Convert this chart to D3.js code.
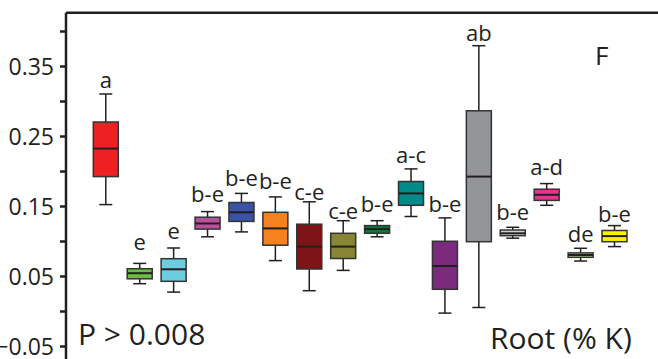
<!DOCTYPE html>
<html>
<head>
<meta charset="utf-8">
<script src="https://d3js.org/d3.v7.min.js"></script>
<style>
  html, body { margin: 0; padding: 0; background: #fff; }
  svg text { font-family: "Open Sans", sans-serif; fill: #231f20; }
  .box rect { stroke: #333; stroke-width: 1.5px; }
  .box line { stroke: #231f20; stroke-width: 1.5px; }
  .axis path, .axis line { stroke: #231f20; stroke-width: 2.5px; }
</style>
</head>
<body>
<script>
// one entry per treatment, left to right
var groups   = ["T1","T2","T3","T4","T5","T6","T7","T8","T9","T10","T11","T12","T13","T14","T15","T16"];
var whiskLo  = [0.152, 0.039, 0.027, 0.106, 0.113, 0.072, 0.029, 0.058, 0.106, 0.135, -0.003, 0.005, 0.104, 0.151, 0.0714, 0.092];
var q1       = [0.192, 0.046, 0.0424, 0.117, 0.128, 0.094, 0.060, 0.075, 0.111, 0.151, 0.031, 0.099, 0.1076, 0.158, 0.0767, 0.099];
var median   = [0.232, 0.054, 0.0596, 0.125, 0.141, 0.118, 0.092, 0.092, 0.117, 0.168, 0.0643, 0.192, 0.111, 0.166, 0.080, 0.107];
var q3       = [0.270, 0.0604, 0.0747, 0.134, 0.155, 0.141, 0.124, 0.111, 0.122, 0.185, 0.0996, 0.286, 0.1157, 0.174, 0.083, 0.115];
var whiskHi  = [0.310, 0.068, 0.090, 0.142, 0.168, 0.163, 0.156, 0.129, 0.129, 0.203, 0.133, 0.379, 0.1196, 0.182, 0.0896, 0.122];
var letters  = ["a","e","e","b-e","b-e","b-e","c-e","c-e","b-e","a-c","b-e","ab","b-e","a-d","de","b-e"];
// value at which each letter's baseline sits
var letterAt = [0.318, 0.087, 0.103, 0.156, 0.178, 0.174, 0.158, 0.131, 0.142, 0.212, 0.142, 0.386, 0.130, 0.194, 0.098, 0.127];
var colors   = ["#ed2024","#6bbd45","#6dcddf","#b94f9f","#3a53a4","#f6821f","#7f1416","#878634","#0b7c3b","#008a8a",
                "#7b2a7e","#939598","#cfd1d2","#e9338e","#b7d98f","#fef200"];
var majorTicks = [-0.05, 0.05, 0.15, 0.25, 0.35];
var allTicks   = [-0.05, 0, 0.05, 0.1, 0.15, 0.2, 0.25, 0.3, 0.35, 0.4];

var width = 658, height = 359;
var svg = d3.select("body").append("svg")
    .attr("width", width).attr("height", height);

var y = d3.scaleLinear().domain([-0.07, 0.426]).range([360, 12.8]);
var x = d3.scalePoint().domain(groups).range([105.8, 614.5]);
var axisX = 66, boxW = 25, capW = 13;

// frame: top edge
svg.append("line")
    .attr("x1", axisX).attr("x2", width)
    .attr("y1", y(0.426)).attr("y2", y(0.426))
    .attr("stroke", "#231f20").attr("stroke-width", 2.5);

// y axis
var axis = d3.axisLeft(y)
    .tickValues(allTicks)
    .tickSize(6)
    .tickSizeOuter(0)
    .tickPadding(6)
    .tickFormat(function(d) {
      var isMajor = majorTicks.some(function(m) { return Math.abs(m - d) < 1e-9; });
      return isMajor ? d3.format(".2f")(d) : "";
    });
var gAxis = svg.append("g")
    .attr("class", "axis")
    .attr("transform", "translate(" + axisX + ",0)")
    .call(axis);
gAxis.selectAll("text").style("font-size", "23px").attr("dy", "0.36em");
gAxis.select(".domain").attr("d", "M0," + y(-0.07) + "V" + y(0.426));

var data = groups.map(function(g, i) {
  return { g: g, lo: whiskLo[i], q1: q1[i], med: median[i], q3: q3[i], hi: whiskHi[i],
           letter: letters[i], at: letterAt[i], color: colors[i] };
});

var box = svg.selectAll("g.box").data(data).enter()
    .append("g").attr("class", "box")
    .attr("transform", function(d) { return "translate(" + x(d.g) + ",0)"; });

// whisker stems
box.append("line")
    .attr("x1", 0).attr("x2", 0)
    .attr("y1", function(d) { return y(d.hi); })
    .attr("y2", function(d) { return y(d.lo); });
// caps
box.append("line")
    .attr("x1", -capW / 2).attr("x2", capW / 2)
    .attr("y1", function(d) { return y(d.hi); })
    .attr("y2", function(d) { return y(d.hi); });
box.append("line")
    .attr("x1", -capW / 2).attr("x2", capW / 2)
    .attr("y1", function(d) { return y(d.lo); })
    .attr("y2", function(d) { return y(d.lo); });
// boxes
box.append("rect")
    .attr("x", -boxW / 2).attr("width", boxW)
    .attr("y", function(d) { return y(d.q3); })
    .attr("height", function(d) { return y(d.q1) - y(d.q3); })
    .attr("fill", function(d) { return d.color; });
// medians
box.append("line")
    .attr("x1", -boxW / 2).attr("x2", boxW / 2)
    .attr("y1", function(d) { return y(d.med); })
    .attr("y2", function(d) { return y(d.med); })
    .style("stroke-width", "2px");
// significance letters
box.append("text")
    .attr("text-anchor", "middle")
    .attr("y", function(d) { return y(d.at); })
    .style("font-size", "22px")
    .text(function(d) { return d.letter; });

svg.append("text").attr("x", 78).attr("y", 345)
    .style("font-size", "30px").text("P > 0.008");
svg.append("text").attr("x", 490).attr("y", 349)
    .style("font-size", "30px").text("Root (% K)");
svg.append("text").attr("x", 595).attr("y", 65)
    .style("font-size", "26px").text("F");
</script>
</body>
</html>
